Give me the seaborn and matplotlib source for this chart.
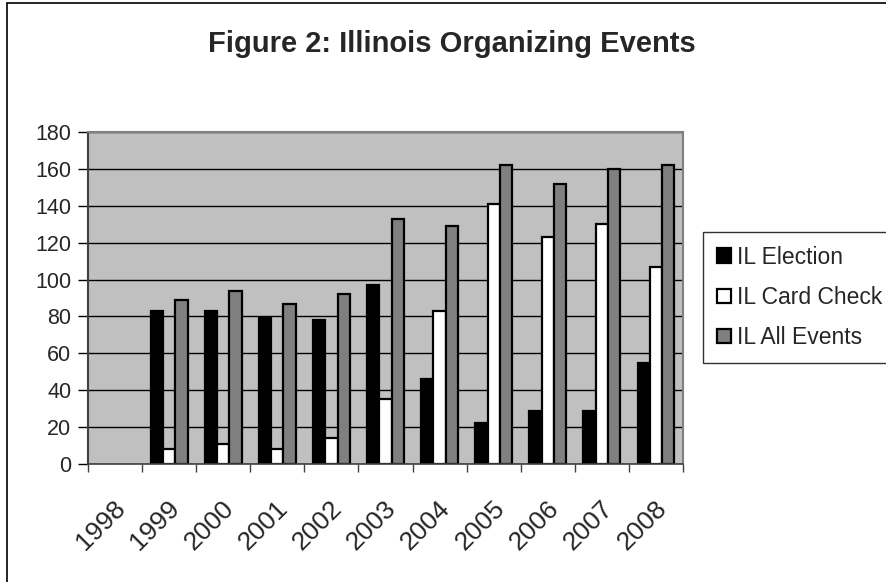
import numpy as np
import pandas as pd
import matplotlib.pyplot as plt
import matplotlib.transforms as mtransforms
from matplotlib.patches import Rectangle
import seaborn as sns

# data (1998 has no bars)
years = ["1998", "1999", "2000", "2001", "2002", "2003", "2004", "2005", "2006", "2007", "2008"]
il_election = [np.nan, 83, 83, 79, 78, 97, 46, 22, 29, 29, 55]
il_card_check = [np.nan, 8, 11, 8, 14, 35, 83, 141, 123, 130, 107]
il_all_events = [np.nan, 89, 94, 87, 92, 133, 129, 162, 152, 160, 162]

series_names = ["IL Election", "IL Card Check", "IL All Events"]
series_colors = ["#000000", "#FFFFFF", "#808080"]
y_ticks = list(range(0, 181, 20))


def build_frame():
    wide = pd.DataFrame({
        "year": years,
        "IL Election": il_election,
        "IL Card Check": il_card_check,
        "IL All Events": il_all_events,
    })
    return wide.melt(id_vars="year", var_name="series", value_name="count")


def draw_chart(df):
    sns.set_style("white")
    plt.rcParams["font.family"] = ["Liberation Sans", "DejaVu Sans"]

    fig = plt.figure(figsize=(8.86, 5.82), dpi=100)
    ax = fig.add_axes([88 / 886, 1 - 464 / 582, 595 / 886, 332 / 582])

    sns.barplot(data=df, x="year", y="count", hue="series",
                order=years, hue_order=series_names, palette=series_colors,
                saturation=1, width=0.68, errorbar=None,
                edgecolor="black", linewidth=1.6, ax=ax)

    # plot area look (old Excel style)
    ax.set_facecolor("#C0C0C0")
    ax.set_xlim(-0.5, len(years) - 0.5)
    ax.set_ylim(0, 180)
    ax.set_yticks(y_ticks)
    ax.yaxis.grid(True, color="black", linewidth=1)
    ax.set_axisbelow(True)
    ax.set_xlabel("")
    ax.set_ylabel("")

    ax.spines["left"].set_color("#404040")
    ax.spines["left"].set_linewidth(1.5)
    ax.spines["bottom"].set_color("#404040")
    ax.spines["bottom"].set_linewidth(1.2)
    for side in ["top", "right"]:
        ax.spines[side].set_color("#808080")
        ax.spines[side].set_linewidth(1.5)

    ax.tick_params(axis="y", direction="out", length=7, width=1, labelsize=15.5, pad=5, color="black", left=True)
    # tick marks on category boundaries, labels in the middle
    ax.set_xticks(np.arange(-0.5, len(years), 1), minor=True)
    ax.tick_params(axis="x", which="minor", direction="out", length=6, width=1, color="#404040", bottom=True)
    ax.tick_params(axis="x", which="major", length=0, labelsize=19, pad=29)
    offset = mtransforms.ScaledTranslation(7 / 100, 0, fig.dpi_scale_trans)
    for lbl in ax.get_xticklabels():
        lbl.set_rotation(45)
        lbl.set_ha("right")
        lbl.set_va("center")
        lbl.set_rotation_mode("anchor")
        lbl.set_transform(lbl.get_transform() + offset)

    # legend
    handles, labels = ax.get_legend_handles_labels()
    ax.get_legend().remove()
    leg = fig.legend(handles, labels, loc="upper left",
                     bbox_to_anchor=(703 / 886, 1 - 232 / 582),
                     frameon=True, fancybox=False, edgecolor="black",
                     fontsize=16.5, handlelength=0.6, handleheight=0.6,
                     handletextpad=0.3, labelspacing=0.75, borderpad=0.6,
                     borderaxespad=0)
    leg.get_frame().set_linewidth(1)

    fig.text(0.51, 0.924, "Figure 2: Illinois Organizing Events",
             ha="center", va="center", fontsize=21, fontweight="bold")

    # chart border (only left/top edges visible in the crop)
    fig.patches.append(Rectangle((7 / 886, -0.1), 1.2, 1.1 - 3 / 582,
                                 transform=fig.transFigure, fill=False,
                                 edgecolor="black", linewidth=1.2))

    fig.savefig("out.png", dpi=100)


if __name__ == "__main__":
    df = build_frame()
    draw_chart(df)
